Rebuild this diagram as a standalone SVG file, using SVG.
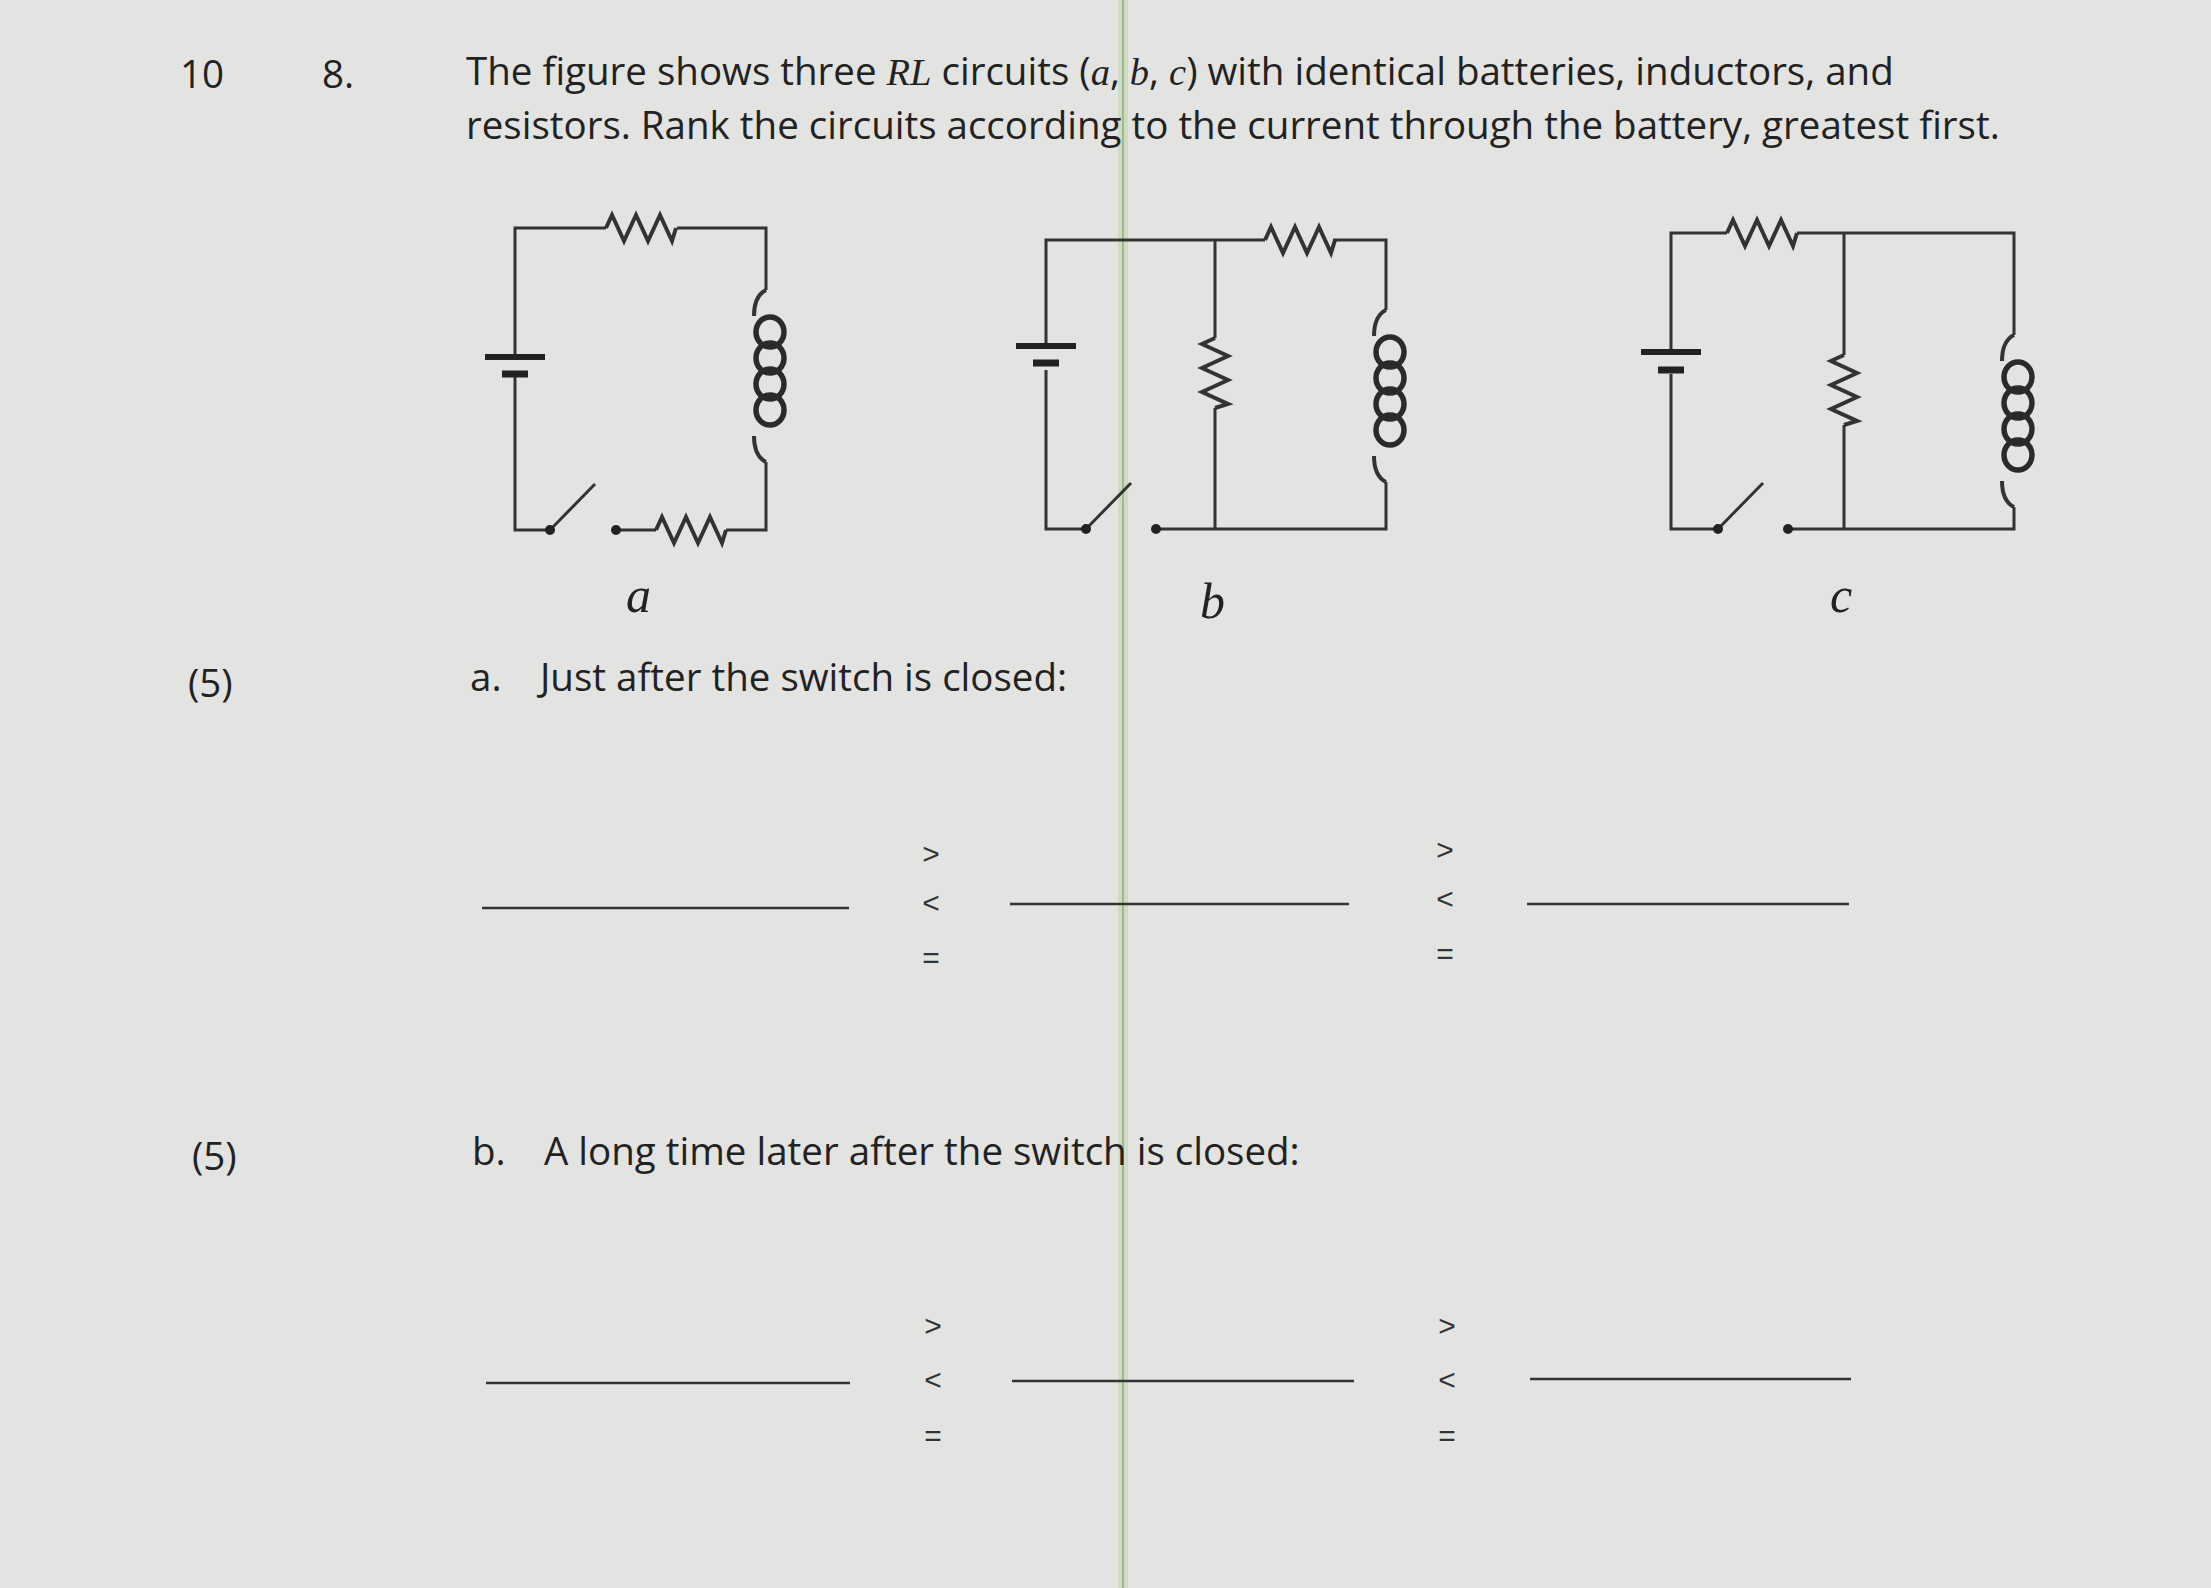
<svg xmlns="http://www.w3.org/2000/svg" width="2211" height="1588" viewBox="0 0 2211 1588">
<defs>
<style>
.w{stroke:#333;stroke-width:3;fill:none}
.r{stroke:#333;stroke-width:4;fill:none;stroke-linejoin:miter}
.c{stroke:#2a2a2a;stroke-width:5.5;fill:none}
.t{font-family:"Open Sans","Liberation Sans",sans-serif;fill:#222;font-size:38.5px}
.lab{font-family:"Liberation Serif",serif;font-style:italic;fill:#222;font-size:50px}
.bl{stroke:#333;stroke-width:2.5}
.sym{font-family:"Liberation Sans",sans-serif;fill:#333;font-size:30px;text-anchor:middle}
</style>
<path id="rh" d="M0,0 l6,-13 l12,26 l12,-26 l12,26 l12,-26 l12,26 l4,-13" class="r"/>
<path id="rv" d="M0,0 l-13,6 l26,12 l-26,12 l26,12 l-26,12 l26,12 l-13,4" class="r"/>
<g id="ind">
<path d="M0,0 q-12,6 -12,26" class="r"/>
<ellipse cx="4" cy="42" rx="14" ry="15" class="c"/>
<ellipse cx="4" cy="68" rx="14" ry="15" class="c"/>
<ellipse cx="4" cy="94" rx="14" ry="15" class="c"/>
<ellipse cx="4" cy="120" rx="14" ry="15" class="c"/>
<path d="M-12,146 q0,20 12,26" class="r"/>
</g>
</defs>
<rect width="2211" height="1588" fill="#e3e3e1"/>
<rect x="1118" y="0" width="10" height="1588" fill="#cfdcc4"/>
<line x1="1123" y1="0" x2="1123" y2="1588" stroke="#9fb98a" stroke-width="2"/>

<g id="text">
<text class="t" x="180" y="88">10</text>
<text class="t" x="322" y="88">8.</text>
<text class="t" x="466" y="85">The figure shows three <tspan font-family="Liberation Serif" font-style="italic">RL</tspan> circuits (<tspan font-family="Liberation Serif" font-style="italic">a</tspan>, <tspan font-family="Liberation Serif" font-style="italic">b</tspan>, <tspan font-family="Liberation Serif" font-style="italic">c</tspan>) with identical batteries, inductors, and</text>
<text class="t" x="466" y="139">resistors. Rank the circuits according to the current through the battery, greatest first.</text>
<text class="t" x="188" y="697">(5)</text>
<text class="t" x="470" y="691">a.</text>
<text class="t" x="540" y="691">Just after the switch is closed:</text>
<text class="t" x="192" y="1170">(5)</text>
<text class="t" x="472" y="1165">b.</text>
<text class="t" x="544" y="1165">A long time later after the switch is closed:</text>
</g>

<g id="circuit-a">
<path class="w" d="M606,228 H515 V357 M515,372 V530 H550 M677,228 H766 V290 M766,462 V530 H726 M656,530 H616"/>
<use href="#rh" x="606" y="228"/>
<use href="#rh" x="656" y="530"/>
<use href="#ind" x="766" y="290"/>
<line x1="485" y1="357" x2="545" y2="357" stroke="#222" stroke-width="6"/>
<line x1="502" y1="374" x2="528" y2="374" stroke="#222" stroke-width="7"/>
<line x1="550" y1="530" x2="595" y2="484" class="w"/>
<circle cx="550" cy="530" r="5" fill="#222"/><circle cx="616" cy="530" r="5" fill="#222"/>
<text class="lab" x="626" y="612">a</text>
</g>

<g id="circuit-b">
<path class="w" d="M1265,240 H1046 V346 M1046,370 V529 H1086 M1333,240 H1386 V310 M1386,482 V529 H1156 M1215,240 V338 M1215,408 V529"/>
<use href="#rh" x="1265" y="240"/>
<use href="#rv" x="1215" y="338"/>
<use href="#ind" x="1386" y="310"/>
<line x1="1016" y1="346" x2="1076" y2="346" stroke="#222" stroke-width="6"/>
<line x1="1033" y1="363" x2="1059" y2="363" stroke="#222" stroke-width="7"/>
<line x1="1086" y1="529" x2="1131" y2="483" class="w"/>
<circle cx="1086" cy="529" r="5" fill="#222"/><circle cx="1156" cy="529" r="5" fill="#222"/>
<text class="lab" x="1200" y="618" font-size="52">b</text>
</g>

<g id="circuit-c">
<path class="w" d="M1727,233 H1671 V352 M1671,374 V529 H1718 M1797,233 H2014 V335 M2014,507 V529 H1788 M1844,233 V355 M1844,425 V529"/>
<use href="#rh" x="1727" y="233"/>
<use href="#rv" x="1844" y="355"/>
<use href="#ind" x="2014" y="335"/>
<line x1="1641" y1="352" x2="1701" y2="352" stroke="#222" stroke-width="6"/>
<line x1="1658" y1="370" x2="1684" y2="370" stroke="#222" stroke-width="7"/>
<line x1="1718" y1="529" x2="1763" y2="483" class="w"/>
<circle cx="1718" cy="529" r="5" fill="#222"/><circle cx="1788" cy="529" r="5" fill="#222"/>
<text class="lab" x="1830" y="612" font-style="normal">c</text>
</g>

<g id="answers">
<line class="bl" x1="482" y1="908" x2="849" y2="908"/>
<line class="bl" x1="1010" y1="904" x2="1349" y2="904"/>
<line class="bl" x1="1527" y1="904" x2="1849" y2="904"/>
<line class="bl" x1="486" y1="1383" x2="850" y2="1383"/>
<line class="bl" x1="1012" y1="1381" x2="1354" y2="1381"/>
<line class="bl" x1="1530" y1="1379" x2="1851" y2="1379"/>
<text class="sym" x="931" y="864">&gt;</text><text class="sym" x="931" y="913">&lt;</text><text class="sym" x="931" y="968">=</text>
<text class="sym" x="1445" y="860">&gt;</text><text class="sym" x="1445" y="909">&lt;</text><text class="sym" x="1445" y="964">=</text>
<text class="sym" x="933" y="1336">&gt;</text><text class="sym" x="933" y="1390">&lt;</text><text class="sym" x="933" y="1446">=</text>
<text class="sym" x="1447" y="1336">&gt;</text><text class="sym" x="1447" y="1390">&lt;</text><text class="sym" x="1447" y="1446">=</text>
</g>
</svg>
